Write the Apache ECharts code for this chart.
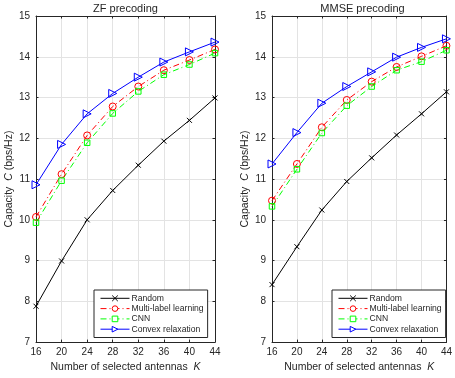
<!DOCTYPE html>
<html><head><meta charset="utf-8">
<script src="https://cdn.jsdelivr.net/npm/echarts@6/dist/echarts.min.js"></script>
<style>html,body{margin:0;padding:0;background:#fff}#c{width:455px;height:378px}</style>
</head><body><div id="c"></div>
<script>
const categories = [16, 20, 24, 28, 32, 36, 40, 44];
const seriesNames = ['Random', 'Multi-label learning', 'CNN', 'Convex relaxation'];
const zfRandom = [7.88, 8.99, 10.0, 10.72, 11.34, 11.93, 12.44, 12.99];
const zfMulti = [10.07, 11.12, 12.07, 12.78, 13.27, 13.67, 13.92, 14.18];
const zfCNN = [9.93, 10.96, 11.89, 12.61, 13.15, 13.56, 13.81, 14.09];
const zfConvex = [10.86, 11.85, 12.6, 13.1, 13.5, 13.87, 14.12, 14.36];
const mmseRandom = [8.41, 9.34, 10.24, 10.94, 11.52, 12.08, 12.6, 13.14];
const mmseMulti = [10.47, 11.37, 12.27, 12.94, 13.39, 13.75, 14.01, 14.27];
const mmseCNN = [10.33, 11.24, 12.13, 12.8, 13.27, 13.67, 13.88, 14.16];
const mmseConvex = [11.37, 12.14, 12.86, 13.27, 13.63, 13.99, 14.23, 14.44];
const titles = ['ZF precoding', 'MMSE precoding'];
const yTicks = [7, 8, 9, 10, 11, 12, 13, 14, 15];

const FONT = 'Liberation Sans, Arial, sans-serif';
const TXT = '#262626';
const styles = [
  {color: '#000000', symbol: 'path://M0,0 L10,10 M10,0 L0,10', size: 5, type: 'solid'},
  {color: '#ff0000', symbol: 'circle', size: 7, type: [6, 3, 1, 3]},
  {color: '#00ff00', symbol: 'rect', size: 5.5, type: [6, 3, 1, 3]},
  {color: '#0000ff', symbol: 'path://M0,0 L10,5 L0,10 Z', size: 8, type: 'solid'}
];
const panels = [[zfRandom, zfMulti, zfCNN, zfConvex], [mmseRandom, mmseMulti, mmseCNN, mmseConvex]];
const grids = [
  {left: 36, right: 240, top: 16, bottom: 33},
  {left: 272, right: 2, top: 16, bottom: 33}
];
const chart = echarts.init(document.getElementById('c'));
const nameRich = {n: {fontFamily: FONT, fontSize: 10.5, color: TXT}, i: {fontFamily: FONT, fontSize: 10.5, fontStyle: 'italic', color: TXT}};
const xAxes = [], yAxes = [];
grids.forEach((g, i) => {
  xAxes.push({
    gridIndex: i, type: 'value', min: 16, max: 44, interval: 4, position: 'bottom',
    name: '{n|Number of selected antennas  }{i|K}', nameLocation: 'middle', nameGap: 17,
    nameTextStyle: {rich: nameRich},
    axisLine: {lineStyle: {color: TXT}},
    axisTick: {inside: true, length: 2.5, lineStyle: {color: TXT}},
    axisLabel: {fontFamily: FONT, fontSize: 10, color: TXT, margin: 5},
    splitLine: {show: true, lineStyle: {color: '#e3e3e3', width: 1}}
  });
  xAxes.push({
    gridIndex: i, type: 'value', min: 16, max: 44, interval: 4, position: 'top',
    axisLine: {show: true, onZero: false, lineStyle: {color: TXT}},
    axisTick: {show: true, inside: true, length: 2.5, lineStyle: {color: TXT}},
    axisLabel: {show: false}, splitLine: {show: false}
  });
  yAxes.push({
    gridIndex: i, type: 'value', min: yTicks[0], max: yTicks[yTicks.length - 1], interval: 1, position: 'left',
    name: '{n|Capacity  }{i|C}{n| (bps/Hz)}', nameLocation: 'middle', nameGap: 19,
    nameTextStyle: {rich: nameRich},
    axisLine: {show: true, lineStyle: {color: TXT}},
    axisTick: {show: true, inside: true, length: 2.5, lineStyle: {color: TXT}},
    axisLabel: {fontFamily: FONT, fontSize: 10, color: TXT, margin: 6},
    splitLine: {show: true, lineStyle: {color: '#e3e3e3', width: 1}}
  });
  yAxes.push({
    gridIndex: i, type: 'value', min: yTicks[0], max: yTicks[yTicks.length - 1], interval: 1, position: 'right',
    axisLine: {show: true, onZero: false, lineStyle: {color: TXT}},
    axisTick: {show: true, inside: true, length: 2.5, lineStyle: {color: TXT}},
    axisLabel: {show: false}, splitLine: {show: false}
  });
});
const option = {
  animation: false,
  backgroundColor: '#fff',
  title: titles.map((t, i) => ({
    text: t, left: (grids[i].left + (455 - grids[i].right)) / 2, top: 3, textAlign: 'center', padding: 0,
    textStyle: {fontFamily: FONT, fontSize: 11, fontWeight: 'normal', color: TXT}
  })),
  grid: grids.map(g => Object.assign({show: false}, g)),
  xAxis: xAxes,
  yAxis: yAxes,
  legend: grids.map((g, i) => ({
    left: i === 0 ? 94 : 332, top: 290, orient: 'vertical',
    data: seriesNames.map((n, k) => ({
      name: n,
      itemStyle: {color: '#fff', borderColor: styles[k].color, borderWidth: 1},
      lineStyle: {color: styles[k].color, width: 1, type: styles[k].type}
    })),
    itemWidth: 29, itemHeight: 7, itemGap: 0.3,
    lineStyle: {width: 1},
    padding: [3.3, 4, 3.3, 6], borderColor: TXT, borderWidth: 1, backgroundColor: '#fff',
    textStyle: {fontFamily: FONT, fontSize: 8.6, lineHeight: 10, color: TXT, padding: [0, 0, 0, -3]},
    selectedMode: false
  })),
  series: []
};
panels.forEach((vals, p) => {
  vals.forEach((arr, k) => {
    const s = styles[k];
    option.series.push({
      name: seriesNames[k], type: 'line', xAxisIndex: p * 2, yAxisIndex: p * 2,
      data: categories.map((c, j) => [c, arr[j]]),
      symbol: s.symbol, symbolSize: s.size, showSymbol: true,
      lineStyle: {color: s.color, width: 1, type: s.type},
      itemStyle: {color: 'rgba(255,255,255,0)', borderColor: s.color, borderWidth: 1},
      emphasis: {disabled: true}
    });
  });
});
chart.setOption(option);
</script>
</body></html>
